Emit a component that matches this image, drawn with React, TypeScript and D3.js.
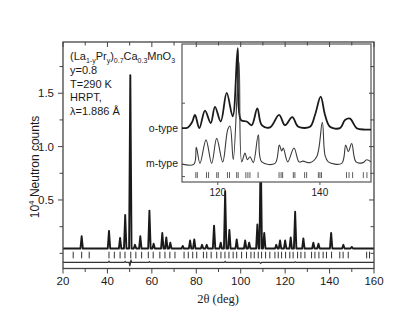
import * as d3 from "d3";

const W = 415;
const H = 327;

// main pattern: Bragg peak positions (2theta, deg) and peak tops (10^4 counts)
const peakPos = [28.4, 40.7, 45.7, 48.0, 50.3, 52.4, 54.8, 58.9, 60.8, 64.7, 66.5, 68.3, 73.9, 77.2, 79.1, 82.6, 84.7, 88.0, 91.0, 93.0, 94.9, 98.2, 102.0, 103.8, 107.5, 109.0, 110.6, 116.0, 117.7, 120.0, 122.5, 124.5, 128.2, 132.7, 135.0, 140.7, 146.2, 150.0];
const peakTop = [0.16, 0.21, 0.145, 0.36, 1.67, 0.08, 0.16, 0.4, 0.09, 0.19, 0.15, 0.1, 0.07, 0.12, 0.13, 0.08, 0.08, 0.26, 0.1, 0.58, 0.22, 0.13, 0.12, 0.1, 0.27, 1.0, 0.19, 0.08, 0.12, 0.12, 0.15, 0.39, 0.14, 0.1, 0.09, 0.19, 0.08, 0.06];
const background = 0.045;

// reflection markers of the main pattern
const braggMain = [24.6, 28.4, 31.8, 40.7, 43.1, 45.7, 47.9, 50.5, 52.8, 55.4, 58.4, 60.6, 63.6, 65.9, 68.1, 70.4, 74.5, 76.4, 78.4, 80.2, 83.2, 84.7, 86.7, 89.2, 91.1, 92.9, 94.7, 96.6, 98.2, 100.4, 102.6, 104.6, 106.1, 107.9, 109.4, 111.2, 113.1, 115.4, 116.9, 118.4, 120.2, 122.1, 123.6, 125.6, 127.1, 128.9, 131.9, 133.4, 135.2, 137.1, 138.6, 140.9, 144.6, 146.1, 148.4, 156.7, 158.0];

// difference curve: level and the few visible wiggles
const diffLevel = -0.085;
const diffPos = [40.7, 48.0, 50.1, 50.6, 58.9, 66.5, 93.0, 109.0, 124.5];
const diffDev = [0.012, 0.01, -0.035, 0.02, 0.008, 0.005, 0.01, -0.01, 0.006];

const xTicksMajor = [20, 40, 60, 80, 100, 120, 140, 160];
const xTicksMinor = [30, 50, 70, 90, 110, 130, 150];
const yTicksMajor = [0.5, 1.0, 1.5];
const yTicksMinor = [0, 0.25, 0.75, 1.25, 1.75];

// inset: o-type and m-type profiles
const oX = [113.0, 114.17, 114.96, 115.55, 116.39, 117.5, 118.62, 119.46, 120.58, 121.75, 122.93, 123.91, 124.55, 125.67, 126.65, 127.74, 128.61, 130.23, 132.0, 133.16, 134.59, 135.77, 138.06, 139.04, 140.15, 141.0, 141.97, 143.93, 144.91, 145.89, 147.2, 148.83, 150.0];
const oY = [1.66, 1.67, 1.74, 1.84, 1.66, 1.9, 1.73, 1.95, 1.75, 2.14, 1.82, 2.75, 1.77, 1.75, 1.7, 1.93, 1.7, 1.67, 1.84, 1.7, 1.81, 1.68, 1.68, 1.84, 2.09, 1.84, 1.68, 1.66, 1.77, 1.79, 1.66, 1.64, 1.64];
const mX = [113.0, 115.35, 115.8, 116.52, 117.7, 118.81, 119.79, 120.97, 121.95, 122.4, 123.04, 124.16, 124.69, 125.33, 125.79, 126.32, 126.96, 127.94, 128.61, 131.21, 132.05, 132.52, 132.83, 133.69, 134.93, 135.91, 136.69, 138.06, 139.37, 140.47, 141.0, 141.64, 144.27, 145.05, 145.56, 146.22, 147.06, 148.43, 149.16, 150.0];
const mY = [1.17, 1.17, 1.4, 1.18, 1.5, 1.18, 1.52, 1.2, 1.64, 1.69, 1.23, 2.56, 1.2, 1.32, 1.23, 1.27, 1.19, 1.57, 1.2, 1.18, 1.43, 1.35, 1.39, 1.2, 1.39, 1.2, 1.21, 1.19, 1.27, 1.74, 1.29, 1.2, 1.18, 1.43, 1.34, 1.45, 1.2, 1.19, 1.23, 1.2];
const braggInset = [115.7, 116.0, 117.8, 118.2, 119.8, 120.1, 121.9, 122.3, 123.7, 124.0, 125.5, 125.9, 126.3, 127.9, 132.0, 132.4, 132.7, 134.8, 135.1, 137.0, 137.4, 139.7, 140.0, 140.3, 145.2, 145.7, 146.4, 148.5, 149.2];
const insetXTicks = [120, 140];
const insetLeftTicks = [1, 2];

const M = { left: 63, right: 374, top: 42, bottom: 268.5 };
const INSET = { left: 182, right: 371, top: 44, bottom: 182 };

const FONT = "'Liberation Sans', Arial, sans-serif";
const INK = "#1a1a1a";

export default function App() {
  const x = d3.scaleLinear().domain([20, 160]).range([M.left, M.right]);
  const y = d3.scaleLinear().domain([-0.142, 1.98]).range([M.bottom, M.top]);

  const profile: [number, number][] = [[20, background]];
  peakPos.forEach((p, i) => {
    profile.push([p - 0.55, background], [p, peakTop[i]], [p + 0.55, background]);
  });
  profile.push([160, background]);
  const mainLine = d3.line<[number, number]>().x(d => x(d[0])).y(d => y(d[1]));

  const diff: [number, number][] = [[20, diffLevel]];
  diffPos.forEach((p, i) => {
    diff.push([p - 0.4, diffLevel], [p, diffLevel + diffDev[i]], [p + 0.4, diffLevel]);
  });
  diff.push([160, diffLevel]);

  const xi = d3.scaleLinear().domain([113, 150]).range([INSET.left, INSET.right]);
  const yi = d3.scaleLinear().domain([0.926, 2.807]).range([INSET.bottom, INSET.top]);
  const oPath = d3.line<number>().curve(d3.curveCatmullRom.alpha(0.5))
    .x((_, i) => xi(oX[i])).y((d) => yi(d))(oY);
  const mPath = d3.line<number>().curve(d3.curveCatmullRom.alpha(0.5))
    .x((_, i) => xi(mX[i])).y((d) => yi(d))(mY);

  return (
    <svg width={W} height={H} style={{ position: "absolute", left: 0, top: 0, background: "#fff" }} fontFamily={FONT}>
      {/* main data */}
      <path d={mainLine(profile) || ""} fill="none" stroke={INK} strokeWidth={1.9} strokeLinejoin="round" />
      <path d={mainLine(diff) || ""} fill="none" stroke="#333" strokeWidth={1.1} />
      {braggMain.map((b, i) => (
        <line key={i} x1={x(b)} x2={x(b)} y1={y(0.015)} y2={y(-0.047)} stroke={INK} strokeWidth={0.9} />
      ))}

      {/* inset */}
      <g>
        <rect x={INSET.left} y={INSET.top} width={INSET.right - INSET.left} height={INSET.bottom - INSET.top} fill="#fff" stroke="#555" strokeWidth={1.2} />
        <clipPath id="insetClip">
          <rect x={INSET.left} y={INSET.top} width={INSET.right - INSET.left} height={INSET.bottom - INSET.top} />
        </clipPath>
        <g clipPath="url(#insetClip)">
          <path d={oPath || ""} fill="none" stroke={INK} strokeWidth={1.8} />
          <path d={mPath || ""} fill="none" stroke="#3a3a3a" strokeWidth={1.1} />
          {braggInset.map((b, i) => (
            <line key={i} x1={xi(b)} x2={xi(b)} y1={yi(1.06)} y2={yi(0.98)} stroke="#333" strokeWidth={0.8} />
          ))}
        </g>
        {insetXTicks.map(t => (
          <g key={t}>
            <line x1={xi(t)} x2={xi(t)} y1={INSET.bottom} y2={INSET.bottom + 3} stroke="#555" />
            <text x={xi(t)} y={INSET.bottom + 13.5} textAnchor="middle" fontSize={10} fill={INK}>{t}</text>
          </g>
        ))}
        {insetLeftTicks.map(t => (
          <line key={t} x1={INSET.left} x2={INSET.left + 3} y1={yi(t)} y2={yi(t)} stroke="#555" />
        ))}
        <text x={178} y={yi(1.66) + 3.5} textAnchor="end" fontSize={10.5} fill={INK}>o-type</text>
        <text x={178} y={yi(1.18) + 3.5} textAnchor="end" fontSize={10.5} fill={INK}>m-type</text>
      </g>

      {/* main frame and axes */}
      <rect x={M.left} y={M.top} width={M.right - M.left} height={M.bottom - M.top} fill="none" stroke="#444" strokeWidth={1.3} />
      {xTicksMajor.map(t => (
        <g key={t}>
          <line x1={x(t)} x2={x(t)} y1={M.bottom} y2={M.bottom + 5} stroke="#444" />
          <line x1={x(t)} x2={x(t)} y1={M.top} y2={M.top + 5} stroke="#444" />
          <text x={x(t)} y={285} textAnchor="middle" fontSize={11.5} fill={INK}>{t}</text>
        </g>
      ))}
      {xTicksMinor.map(t => (
        <g key={t}>
          <line x1={x(t)} x2={x(t)} y1={M.bottom} y2={M.bottom + 3.5} stroke="#444" />
          <line x1={x(t)} x2={x(t)} y1={M.top} y2={M.top + 3.5} stroke="#444" />
        </g>
      ))}
      {yTicksMajor.map(t => (
        <g key={t}>
          <line x1={M.left - 5} x2={M.left} y1={y(t)} y2={y(t)} stroke="#444" />
          <line x1={M.right - 5} x2={M.right} y1={y(t)} y2={y(t)} stroke="#444" />
          <text x={54} y={y(t) + 4} textAnchor="end" fontSize={11.5} fill={INK}>{d3.format(".1f")(t)}</text>
        </g>
      ))}
      {yTicksMinor.map(t => (
        <g key={t}>
          <line x1={M.left - 3.5} x2={M.left} y1={y(t)} y2={y(t)} stroke="#444" />
          <line x1={M.right - 3.5} x2={M.right} y1={y(t)} y2={y(t)} stroke="#444" />
        </g>
      ))}

      {/* axis titles */}
      <text transform={`translate(39,167) rotate(-90)`} textAnchor="middle" fontSize={12} fill={INK}>
        10<tspan dy={-5} fontSize={8}>4</tspan><tspan dy={5}> Neutron counts</tspan>
      </text>
      <text x={218} y={303} textAnchor="middle" fontSize={12.5} fill={INK} fontFamily="'Liberation Serif', 'Times New Roman', serif">2θ (deg)</text>

      {/* sample annotation */}
      <g fontSize={11} fill={INK}>
        <text x={70} y={59.5}>
          (La<tspan dy={3} fontSize={7}>1-y</tspan><tspan dy={-3}>Pr</tspan><tspan dy={3} fontSize={7}>y</tspan><tspan dy={-3}>)</tspan><tspan dy={3} fontSize={7}>0.7</tspan><tspan dy={-3}>Ca</tspan><tspan dy={3} fontSize={7}>0.3</tspan><tspan dy={-3}>MnO</tspan><tspan dy={3} fontSize={7}>3</tspan>
        </text>
        <text x={70} y={74}>y=0.8</text>
        <text x={70} y={87.5}>T=290 K</text>
        <text x={70} y={101}>HRPT,</text>
        <text x={70} y={114.5}>λ=1.886 Å</text>
      </g>
    </svg>
  );
}
